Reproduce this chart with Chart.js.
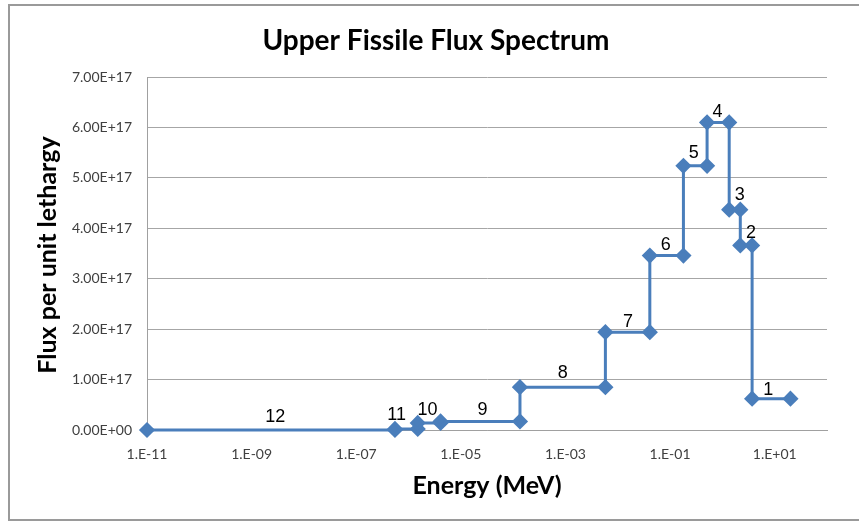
<!DOCTYPE html>
<html>
<head>
<meta charset="utf-8">
<script src="https://cdn.jsdelivr.net/npm/chart.js@4/dist/chart.umd.min.js"></script>
<style>
  html, body { margin: 0; padding: 0; background: #fff; }
  #wrap { width: 859px; height: 521px; position: relative; }
</style>
</head>
<body>
<div id="wrap"><canvas id="myChart" width="859" height="521"></canvas></div>
<script>
// group boundaries in MeV, lowest energy first
const edges = [1e-11, 5.5e-7, 1.5e-6, 4.1e-6, 1.35e-4, 5.8e-3, 4.1e-2, 1.8e-1, 5.1e-1, 1.35, 2.2, 3.7, 20];
// flux per unit lethargy for groups 12 .. 1
const flux = [0, 0.02e17, 0.14e17, 0.17e17, 0.85e17, 1.94e17, 3.46e17, 5.24e17, 6.10e17, 4.37e17, 3.66e17, 0.62e17];
const groupNames = ['12', '11', '10', '9', '8', '7', '6', '5', '4', '3', '2', '1'];
// where each group number sits (energy, flux)
const labelX = [2.84e-9, 5.9e-7, 2.3e-6, 2.6e-5, 8.9e-4, 1.57e-2, 0.0824, 0.283, 0.806, 2.16, 3.51, 7.55];
const labelY = [0.26e17, 0.30e17, 0.40e17, 0.40e17, 1.13e17, 2.15e17, 3.67e17, 5.49e17, 6.31e17, 4.66e17, 3.90e17, 0.79e17];
const xTicks = [1e-11, 1e-9, 1e-7, 1e-5, 1e-3, 1e-1, 1e1];
const xTickLabels = ['1.E-11', '1.E-09', '1.E-07', '1.E-05', '1.E-03', '1.E-01', '1.E+01'];

// step line: each group is a flat segment between its two edges
const steps = [];
for (let i = 0; i < flux.length; i++) {
    steps.push({ x: edges[i], y: flux[i] });
    steps.push({ x: edges[i + 1], y: flux[i] });
}

const sci = (v) => {
    if (v === 0) return '0.00E+00';
    const e = Math.floor(Math.log10(Math.abs(v)) + 1e-9);
    const m = v / Math.pow(10, e);
    return m.toFixed(2) + 'E' + (e < 0 ? '-' : '+') + String(Math.abs(e)).padStart(2, '0');
};

const decorations = {
    id: 'decorations',
    afterDatasetsDraw(chart) {
        const c = chart.ctx;
        const xs = chart.scales.x, ys = chart.scales.y;
        c.save();
        // group numbers
        c.fillStyle = '#000';
        c.font = '18px "Liberation Sans", Arial, sans-serif';
        c.textAlign = 'center';
        c.textBaseline = 'middle';
        groupNames.forEach((t, i) => {
            c.fillText(t, xs.getPixelForValue(labelX[i]), ys.getPixelForValue(labelY[i]));
        });
        // titles
        c.font = 'bold 28px Lato, "Open Sans", sans-serif';
        c.fillText('Upper Fissile Flux Spectrum', 436, 41);
        c.font = 'bold 25px Lato, "Open Sans", sans-serif';
        c.fillText('Energy (MeV)', 487, 486);
        c.translate(48, 255);
        c.rotate(-Math.PI / 2);
        c.fillText('Flux per unit lethargy', 0, 0);
        c.restore();
        // outer frame
        c.save();
        c.strokeStyle = '#9a9a9a';
        c.lineWidth = 2;
        c.beginPath();
        c.moveTo(860, 5);
        c.lineTo(9, 5);
        c.lineTo(9, 520);
        c.lineTo(860, 520);
        c.stroke();
        c.restore();
    }
};

const ctx = document.getElementById('myChart');
new Chart(ctx, {
    type: 'scatter',
    data: {
        datasets: [{
            label: 'Flux',
            data: steps,
            showLine: true,
            borderColor: '#4a7ebb',
            backgroundColor: '#4a7ebb',
            borderWidth: 3,
            pointStyle: 'rectRot',
            pointRadius: 6,
            pointHoverRadius: 6,
            clip: false
        }]
    },
    options: {
        responsive: false,
        animation: false,
        layout: { padding: { top: 77, right: 32, bottom: 0, left: 0 } },
        plugins: { legend: { display: false }, tooltip: { enabled: false } },
        scales: {
            x: {
                type: 'logarithmic',
                min: 1e-11,
                max: 100,
                afterFit: (s) => { s.height = 91; },
                afterBuildTicks: (s) => { s.ticks = xTicks.map(v => ({ value: v })); },
                grid: { display: false, drawTicks: false },
                border: { color: '#a0a0a0', width: 1 },
                ticks: {
                    autoSkip: false,
                    maxRotation: 0,
                    padding: 16,
                    color: '#404040',
                    font: { family: 'Lato, "Open Sans", sans-serif', size: 14 },
                    callback: (v, i) => xTickLabels[i]
                }
            },
            y: {
                min: 0,
                max: 7e17,
                afterFit: (s) => { s.width = 147; },
                grid: { color: '#a6a6a6', lineWidth: 1, drawTicks: false },
                border: { color: '#a0a0a0', width: 1 },
                ticks: {
                    stepSize: 1e17,
                    padding: 15,
                    color: '#404040',
                    font: { family: 'Lato, "Open Sans", sans-serif', size: 14 },
                    callback: (v) => sci(v)
                }
            }
        }
    },
    plugins: [decorations]
});
</script>
</body>
</html>
